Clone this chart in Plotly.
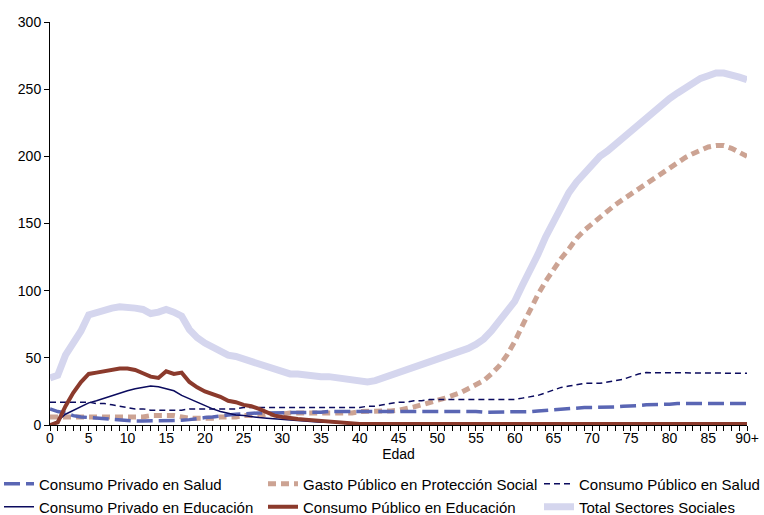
import plotly.graph_objects as go

ages = list(range(0, 91))
tick_vals = list(range(0, 91, 5))
tick_text = [str(v) for v in tick_vals[:-1]] + ["90+"]

total = [35, 37, 52, 60, 70, 82, 84, 85, 87, 88, 88, 87, 86, 83, 84, 86, 84, 81, 71, 65,
         61, 58, 55, 52, 51, 49, 47, 45, 43, 41, 39, 38, 38, 37, 36, 36, 36, 35, 35, 34,
         32, 32, 33, 35, 37, 38, 40, 42, 44, 46, 48, 50, 52, 54, 57, 60, 64, 70, 78, 86,
         92, 104, 115, 127, 140, 152, 163, 173, 181, 188, 195, 200, 204, 209, 214, 219, 224, 229, 234, 239,
         243, 247, 251, 255, 258, 260, 262, 262, 261, 259, 257]

proteccion = [6, 6, 6, 6, 6, 6, 6, 6, 6, 6, 6, 6, 6, 7, 7, 7, 7, 6, 5, 5,
              5, 5, 6, 6, 6, 7, 7, 7, 8, 8, 8, 9, 9, 9, 9, 9, 9, 9, 9, 9,
              10, 10, 10, 10, 10.5, 11, 12, 13.5, 15, 16.5, 18, 20, 22, 24, 27, 30, 33, 38, 44, 52,
              62, 74, 86, 97, 107, 116, 124, 131, 139, 145, 150, 155, 160, 164, 168, 172, 175, 179, 183, 187,
              191, 195, 199, 202, 205, 207, 208, 208, 206, 203, 200]

pub_salud = [17, 17, 17, 17, 17, 17, 16, 16, 15, 14, 13, 12, 12, 11, 11, 11, 11, 11, 12, 12,
             12, 12, 12, 12, 12, 13, 13, 13, 13, 13, 13, 13, 13, 13, 13, 13, 13, 13, 13, 13,
             13, 14, 14, 15, 16, 17, 17, 18, 18, 19, 19, 19, 19, 19, 19, 19, 19, 19, 19, 19,
             19, 20, 21, 22, 24, 26, 28, 29, 30, 31, 31, 31, 32, 33, 34, 36, 38, 39, 39, 39,
             39, 39, 39, 39, 39, 39, 39, 38.5, 38.5, 38.5, 38.5]

priv_salud = [12, 10, 9, 7, 6, 5.5, 5, 4.5, 4, 3.5, 3, 3, 3, 3, 3, 3, 3, 3.5, 4, 5,
              5.5, 6, 7, 7.5, 8, 8.5, 9, 9, 9, 9, 9.5, 9.5, 9.5, 9.5, 9.5, 9.5, 10, 10, 10, 10,
              10, 10, 10, 10, 10, 10.5, 10.5, 10.5, 10.5, 10.5, 10.5, 10, 10, 10, 10, 10, 9.5, 9.5, 9.5, 9.5,
              9.5, 9.5, 10, 10.5, 11, 11.5, 12, 12.5, 13, 13, 13, 13, 13, 13.5, 14, 14, 14.5, 15, 15, 15.5,
              15.5, 16, 16, 16, 16, 16, 16, 16, 16, 16, 16]

priv_edu = [0, 3, 8, 11, 14, 16.5, 18, 20, 21.5, 23.5, 25.5, 27, 28, 29, 28.5, 27, 25.5, 22, 19.5, 17,
            14, 12, 10, 8.5, 7.5, 7, 6, 5.5, 5, 4.5, 4, 3.5, 3, 3, 2.5, 2, 2, 1.5, 1, 1,
            0.5, 0.3, 0.3, 0.3, 0.3, 0.3, 0.3, 0.3, 0.3, 0.3, 0.3, 0.3, 0.3, 0.3, 0.3, 0.3, 0.3, 0.3, 0.3, 0.3,
            0.3, 0.3, 0.3, 0.3, 0.3, 0.3, 0.3, 0.3, 0.3, 0.3, 0.3, 0.3, 0.3, 0.3, 0.3, 0.3, 0.3, 0.3, 0.3, 0.3,
            0.3, 0.3, 0.3, 0.3, 0.3, 0.3, 0.3, 0.3, 0.3, 0.3, 0.3]

pub_edu = [0, 2, 14, 24, 32, 38, 39, 40, 41, 42, 42, 41, 38.5, 36, 35, 40, 38, 39, 32, 28,
           25, 23, 21, 18, 17, 15, 14, 12, 9.5, 7, 6, 5, 4.5, 4, 3.5, 3, 3, 2.5, 2, 1.5,
           0.8, 0.8, 0.8, 0.8, 0.8, 0.8, 0.8, 0.8, 0.8, 0.8, 0.8, 0.8, 0.8, 0.8, 0.8, 0.8, 0.8, 0.8, 0.8, 0.8,
           0.8, 0.8, 0.8, 0.8, 0.8, 0.8, 0.8, 0.8, 0.8, 0.8, 0.8, 0.8, 0.8, 0.8, 0.8, 0.8, 0.8, 0.8, 0.8, 0.8,
           0.8, 0.8, 0.8, 0.8, 0.8, 0.8, 0.8, 0.8, 0.8, 0.8, 0.8]

FONT = "Liberation Sans, Arial, sans-serif"

W, H = 764, 515
ML, MR, MT, MB = 50, 17, 22, 90
PW = W - ML - MR
PH = H - MT - MB


def px_x(px):  # screen px -> paper x
    return (px - ML) / PW


def px_y(py):  # screen px -> paper y
    return (H - MB - py) / PH


fig = go.Figure()

fig.add_trace(go.Scatter(x=ages, y=total, mode="lines", name="Total Sectores Sociales",
                         line=dict(color="#D5D6EE", width=7), legend="legend6"))
fig.add_trace(go.Scatter(x=ages, y=proteccion, mode="lines", name="Gasto Público en Protección Social",
                         line=dict(color="#CCA393", width=5, dash="8px,5px"), legend="legend2"))
fig.add_trace(go.Scatter(x=ages, y=priv_salud, mode="lines", name="Consumo Privado en Salud",
                         line=dict(color="#5A66B4", width=3.5, dash="16px,6px"), legend="legend"))
fig.add_trace(go.Scatter(x=ages, y=pub_salud, mode="lines", name="Consumo Público en Salud",
                         line=dict(color="#0B0B5E", width=1.5, dash="6px,4px"), legend="legend3"))
fig.add_trace(go.Scatter(x=ages, y=priv_edu, mode="lines", name="Consumo Privado en Educación",
                         line=dict(color="#0B0B5E", width=1.5), legend="legend4"))
fig.add_trace(go.Scatter(x=ages, y=pub_edu, mode="lines", name="Consumo Público en Educación",
                         line=dict(color="#8B3A2C", width=4), legend="legend5"))

leg_common = dict(xanchor="left", yanchor="middle", orientation="v",
                  font=dict(family=FONT, size=15, color="#000"),
                  bgcolor="rgba(0,0,0,0)", itemwidth=30)

col_x = [39, 303, 579]
row_y = [484, 507]
TXT = 40  # legend text offset from legend left edge

fig.update_layout(
    width=W, height=H,
    margin=dict(l=ML, r=MR, t=MT, b=MB, autoexpand=False),
    plot_bgcolor="white", paper_bgcolor="white",
    font=dict(family=FONT, size=14, color="#000"),
    showlegend=True,
    legend=dict(x=px_x(col_x[0] - TXT), y=px_y(row_y[0]), **leg_common),
    legend2=dict(x=px_x(col_x[1] - TXT), y=px_y(row_y[0]), **leg_common),
    legend3=dict(x=px_x(col_x[2] - TXT), y=px_y(row_y[0]), **leg_common),
    legend4=dict(x=px_x(col_x[0] - TXT), y=px_y(row_y[1]), **leg_common),
    legend5=dict(x=px_x(col_x[1] - TXT), y=px_y(row_y[1]), **leg_common),
    legend6=dict(x=px_x(col_x[2] - TXT), y=px_y(row_y[1]), **leg_common),
    xaxis=dict(range=[0, 90], tickvals=tick_vals, ticktext=tick_text,
               showgrid=False, zeroline=False, showline=True, linecolor="#000", linewidth=1,
               ticks="outside", ticklen=5, tickcolor="#000", ticklabelstandoff=-5,
               minor=dict(dtick=1, tick0=0, ticks="outside", ticklen=5, tickcolor="#000", showgrid=False),
               tickfont=dict(family=FONT, size=14),
               title=dict(text="Edad", font=dict(family=FONT, size=14), standoff=2)),
    yaxis=dict(range=[0, 300], dtick=50, showgrid=False, zeroline=False,
               showline=True, linecolor="#000", linewidth=1,
               ticks="outside", ticklen=5, tickcolor="#000",
               tickfont=dict(family=FONT, size=14)),
)

fig.write_html("out.html", config={"displayModeBar": False},
               post_script="document.body.style.margin='0';document.body.style.overflow='hidden';")
